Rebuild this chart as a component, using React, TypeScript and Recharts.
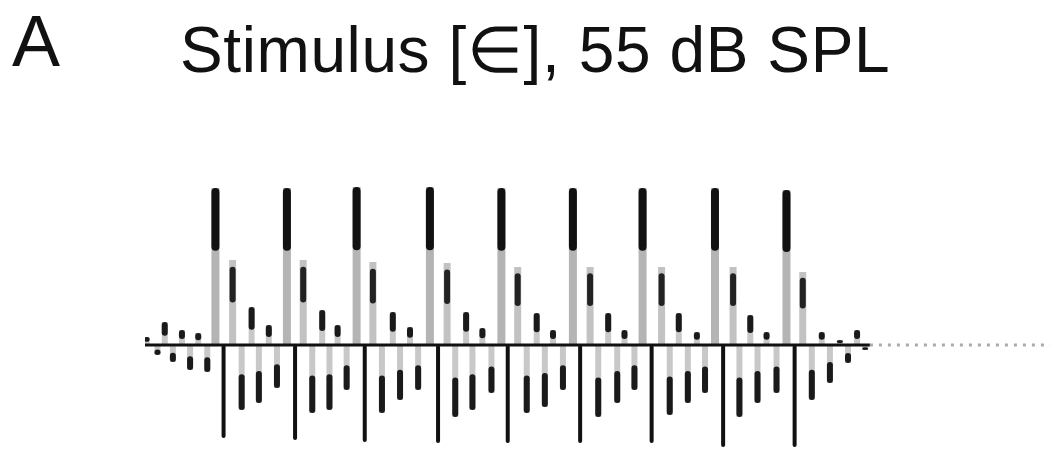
import { ComposedChart, Bar, XAxis, YAxis, ReferenceLine } from 'recharts';

// waveform extremes: [time (ms), amplitude]
const onset: [number, number][] = [
  [0.2, 0.08], [1.4, -0.1], [2.2, 0.23], [3.1, -0.17],
  [4.1, 0.15], [5.0, -0.25], [5.9, 0.12], [6.9, -0.27],
];
const period1: [number, number][] = [
  [7.8, 1.57], [8.7, -0.93], [9.7, 0.85], [10.7, -0.65],
  [11.8, 0.38], [12.6, -0.58], [13.7, 0.2], [14.6, -0.43],
];
const period2: [number, number][] = [
  [15.7, 1.57], [16.6, -0.95], [17.5, 0.85], [18.5, -0.68],
  [19.6, 0.35], [20.4, -0.65], [21.3, 0.2], [22.3, -0.45],
];
const period3: [number, number][] = [
  [23.4, 1.58], [24.3, -0.97], [25.2, 0.83], [26.2, -0.68],
  [27.4, 0.33], [28.2, -0.55], [29.3, 0.18], [30.2, -0.45],
];
const period4: [number, number][] = [
  [31.5, 1.58], [32.4, -0.98], [33.4, 0.82], [34.3, -0.72],
  [35.5, 0.33], [36.2, -0.65], [37.3, 0.17], [38.3, -0.48],
];
const period5: [number, number][] = [
  [39.4, 1.57], [40.1, -0.98], [41.2, 0.78], [42.2, -0.68],
  [43.3, 0.32], [44.2, -0.62], [45.1, 0.15], [46.2, -0.45],
];
const period6: [number, number][] = [
  [47.3, 1.57], [48.1, -0.98], [49.2, 0.78], [50.1, -0.72],
  [51.2, 0.32], [52.2, -0.58], [53.0, 0.15], [54.1, -0.45],
];
const period7: [number, number][] = [
  [55.0, 1.57], [56.0, -0.98], [57.1, 0.78], [58.0, -0.7],
  [59.0, 0.32], [60.0, -0.58], [61.0, 0.13], [61.9, -0.48],
];
const period8: [number, number][] = [
  [63.0, 1.57], [63.9, -1.02], [65.0, 0.78], [65.7, -0.72],
  [66.9, 0.3], [67.7, -0.58], [68.7, 0.13], [69.8, -0.48],
];
const period9: [number, number][] = [
  [70.9, 1.55], [71.8, -1.02], [72.7, 0.73], [73.7, -0.55],
  [74.8, 0.13], [75.7, -0.38], [76.8, 0.05], [77.7, -0.18],
  [78.7, 0.15], [79.6, -0.05],
];

const voicingEnd = 80.1;
const traceEnd = 100;

const samples = [
  ...onset, ...period1, ...period2, ...period3, ...period4,
  ...period5, ...period6, ...period7, ...period8, ...period9,
].map(([t, v]) => ({ t, v }));

// each extreme drawn as a stem from the baseline, dark at the tip
const Stem = (props: any) => {
  const { x, y, width, height, payload } = props;
  const v = payload.v;
  const cx = x + width / 2;
  const top = Math.min(y, y + height);
  const h = Math.abs(height);
  if (v > 1.2) {
    return (
      <g>
        <rect x={cx - 4} y={top} width={8} height={h} fill="#b4b4b4" />
        <rect x={cx - 4} y={top} width={8} height={h * 0.4} rx={4} fill="#111" />
      </g>
    );
  }
  if (v > 0.5) {
    return (
      <g>
        <rect x={cx - 3.5} y={top} width={7} height={h} fill="#c2c2c2" />
        <rect x={cx - 3} y={top + h * 0.08} width={6} height={h * 0.42} rx={3} fill="#222" />
      </g>
    );
  }
  if (v > 0) {
    return (
      <g>
        <rect x={cx - 3} y={top} width={6} height={h} fill="#c8c8c8" />
        <rect x={cx - 3} y={top} width={6} height={h * 0.6} rx={3} fill="#1a1a1a" />
      </g>
    );
  }
  if (v < -0.85) {
    return <rect x={cx - 2} y={top} width={4} height={h} rx={2} fill="#111" />;
  }
  return (
    <g>
      <rect x={cx - 3} y={top} width={6} height={h} fill="#c8c8c8" />
      <rect x={cx - 3} y={top + h * 0.45} width={6} height={h * 0.55} rx={3} fill="#1a1a1a" />
    </g>
  );
};

export default function App() {
  return (
    <div
      style={{
        position: 'absolute',
        left: 0,
        top: 0,
        width: 1056,
        height: 455,
        background: '#fff',
        fontFamily: '"Liberation Sans", Arial, sans-serif',
        color: '#111',
        overflow: 'hidden',
      }}
    >
      <div
        style={{
          position: 'absolute',
          left: 12,
          top: 0,
          fontSize: 72,
        }}
      >
        A
      </div>
      <div
        style={{
          position: 'absolute',
          left: 180,
          top: 12,
          fontSize: 64,
          lineHeight: '76px',
          letterSpacing: 0.6,
          whiteSpace: 'nowrap',
        }}
      >
        Stimulus [∈], 55 dB SPL
      </div>
      <div style={{ position: 'absolute', left: 0, top: 0 }}>
        <ComposedChart
          width={1056}
          height={455}
          data={samples}
          margin={{ top: 170, right: 6, bottom: 0, left: 145 }}
        >
          <XAxis hide type="number" dataKey="t" domain={[0, traceEnd]} allowDataOverflow />
          <YAxis hide type="number" domain={[-1.1, 1.75]} allowDataOverflow />
          <Bar dataKey="v" barSize={6} shape={<Stem />} isAnimationActive={false} />
          <ReferenceLine
            segment={[{ x: 0, y: 0 }, { x: voicingEnd, y: 0 }]}
            stroke="#111"
            strokeWidth={3}
          />
          <ReferenceLine
            segment={[{ x: voicingEnd, y: 0 }, { x: traceEnd, y: 0 }]}
            stroke="#aaa"
            strokeWidth={3}
            strokeDasharray="3 6"
          />
        </ComposedChart>
      </div>
    </div>
  );
}
